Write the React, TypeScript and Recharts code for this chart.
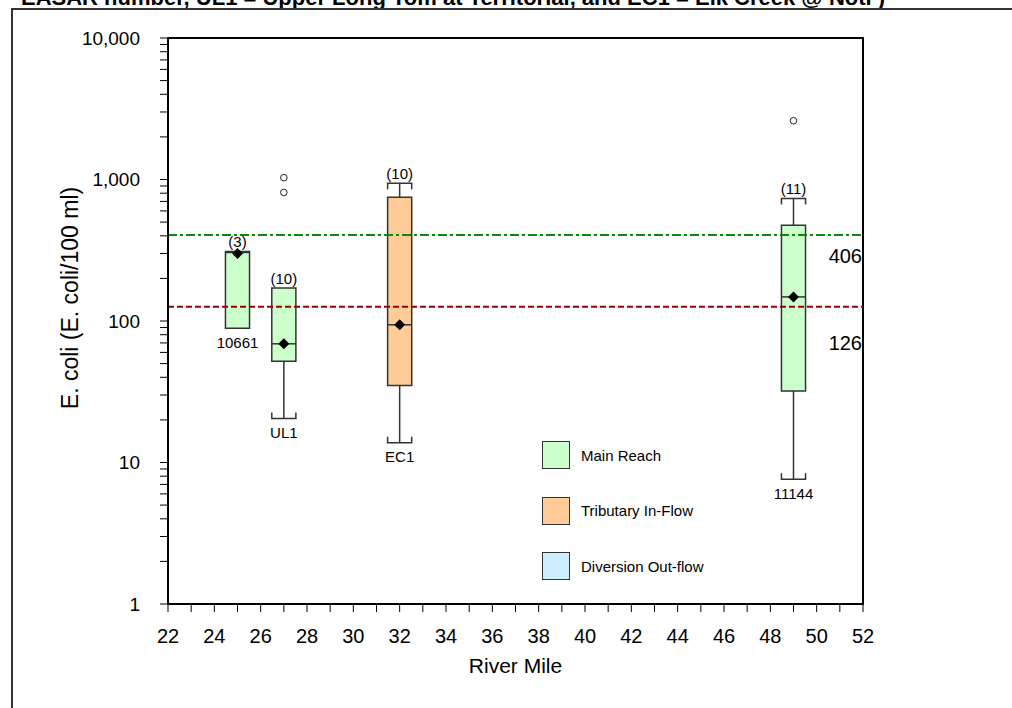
import React from 'react';
import {
	ComposedChart,
	Legend,
	ReferenceArea,
	ReferenceDot,
	ReferenceLine,
	Scatter,
	XAxis,
	YAxis,
} from 'recharts';

// sites along the river
const siteNames = ['10661', 'UL1', 'EC1', '11144'];
const riverMiles = [25, 27, 32, 49];
const sampleCounts = [3, 10, 10, 11];
const siteGroups = ['main', 'main', 'tributary', 'main'];
const whiskerLow: (number | null)[] = [null, 20.5, 13.8, 7.6];
const quartile1 = [89, 52, 35, 32];
const medians = [305, 69, 94, 148];
const quartile3 = [310, 171, 750, 475];
const whiskerHigh: (number | null)[] = [null, null, 940, 735];
const means = [300, 69, 94, 148];
const outlierValues: number[][] = [[], [810, 1030], [], [2600]];

const criteriaValues = [406, 126];

const legendNames = ['Main Reach', 'Tributary In-Flow', 'Diversion Out-flow'];
const legendGroups = ['main', 'tributary', 'diversion'];

const xTicks = [
	22, 23, 24, 25, 26, 27, 28, 29, 30, 31, 32, 33, 34, 35, 36, 37, 38, 39, 40,
	41, 42, 43, 44, 45, 46, 47, 48, 49, 50, 51, 52,
];
const yTicks = [
	1, 2, 3, 4, 5, 6, 7, 8, 9, 10, 20, 30, 40, 50, 60, 70, 80, 90, 100, 200, 300,
	400, 500, 600, 700, 800, 900, 1000, 2000, 3000, 4000, 5000, 6000, 7000, 8000,
	9000, 10000,
];

const groupFill: Record<string, string> = {
	main: '#ccffcc',
	tributary: '#ffcc99',
	diversion: '#cceeff',
};

const BOX_HALF = 0.52;
const INK = '#333';
const FONT = '"Liberation Sans", Arial, sans-serif';

const meanPoints = riverMiles.map((x, i) => ({ x, y: means[i] }));
const outlierPoints = riverMiles.flatMap((x, i) =>
	outlierValues[i].map((y) => ({ x, y })),
);

// whisker end with little bracket ticks pointing back at the box
const capShape = (dir: number) => (props: any) => {
	const { x1, y1, x2, y2 } = props;
	const t = 6 * dir;
	return (
		<path
			d={`M${x1},${y1 + t}V${y1}H${x2}V${y2 + t}`}
			fill="none"
			stroke={INK}
			strokeWidth={1.5}
		/>
	);
};

const Diamond = (props: any) => {
	const { cx, cy } = props;
	const s = 5.5;
	return (
		<polygon
			points={`${cx},${cy - s} ${cx + s},${cy} ${cx},${cy + s} ${cx - s},${cy}`}
			fill="#000"
		/>
	);
};

const Outlier = (props: any) => (
	<circle cx={props.cx} cy={props.cy} r={3.3} fill="#fff" stroke="#222" strokeWidth={1} />
);

const criterionLabel = (text: string, dy: number) => (props: any) => {
	const { viewBox } = props;
	return (
		<text
			x={viewBox.x + viewBox.width - 1}
			y={viewBox.y + dy}
			textAnchor="end"
			fontSize={20}
			fill="#000"
		>
			{text}
		</text>
	);
};

const YTitle = (props: any) => {
	const { viewBox } = props;
	const x = viewBox.x + 70;
	const y = viewBox.y + viewBox.height / 2 - 23;
	return (
		<text
			x={x}
			y={y}
			transform={`rotate(-90 ${x} ${y})`}
			textAnchor="middle"
			dominantBaseline="central"
			fontSize={23}
			fill="#000"
		>
			E. coli (E. coli/100 ml)
		</text>
	);
};

const XTitle = (props: any) => {
	const { viewBox } = props;
	return (
		<text
			x={viewBox.x + viewBox.width / 2}
			y={673}
			textAnchor="middle"
			fontSize={21}
			fill="#000"
		>
			River Mile
		</text>
	);
};

const BoxLegend = () => (
	<div style={{ fontFamily: FONT, fontSize: 15, color: '#000' }}>
		{legendNames.map((name, i) => (
			<div
				key={name}
				style={{ display: 'flex', alignItems: 'center', height: 28, marginBottom: 27.5 }}
			>
				<span
					style={{
						display: 'inline-block',
						width: 26,
						height: 26,
						background: groupFill[legendGroups[i]],
						border: `1px solid ${INK}`,
						marginRight: 11,
					}}
				/>
				{name}
			</div>
		))}
	</div>
);

export default function App() {
	const boxes = riverMiles.map((x, i) => {
		const low = whiskerLow[i];
		const high = whiskerHigh[i];
		const fill = groupFill[siteGroups[i]];
		return (
			<React.Fragment key={siteNames[i]}>
				{low != null && (
					<ReferenceLine
						segment={[{ x, y: quartile1[i] }, { x, y: low }]}
						stroke={INK}
						strokeWidth={1.5}
					/>
				)}
				{low != null && (
					<ReferenceLine
						segment={[{ x: x - BOX_HALF, y: low }, { x: x + BOX_HALF, y: low }]}
						shape={capShape(-1)}
					/>
				)}
				{high != null && (
					<ReferenceLine
						segment={[{ x, y: quartile3[i] }, { x, y: high }]}
						stroke={INK}
						strokeWidth={1.5}
					/>
				)}
				{high != null && (
					<ReferenceLine
						segment={[{ x: x - BOX_HALF, y: high }, { x: x + BOX_HALF, y: high }]}
						shape={capShape(1)}
					/>
				)}
				<ReferenceArea
					x1={x - BOX_HALF}
					x2={x + BOX_HALF}
					y1={quartile1[i]}
					y2={quartile3[i]}
					fill={fill}
					fillOpacity={1}
					stroke={INK}
					strokeWidth={1.5}
				/>
				<ReferenceLine
					segment={[
						{ x: x - BOX_HALF, y: medians[i] },
						{ x: x + BOX_HALF, y: medians[i] },
					]}
					stroke={INK}
					strokeWidth={1.5}
				/>
				<ReferenceDot
					x={x}
					y={high ?? quartile3[i]}
					r={0}
					fill="none"
					stroke="none"
					label={{
						value: `(${sampleCounts[i]})`,
						position: 'top',
						offset: 4,
						fill: '#000',
						fontSize: 15,
					}}
				/>
				<ReferenceDot
					x={x}
					y={low ?? quartile1[i]}
					r={0}
					fill="none"
					stroke="none"
					label={{
						value: siteNames[i],
						position: 'bottom',
						offset: 9,
						fill: '#000',
						fontSize: 15,
					}}
				/>
			</React.Fragment>
		);
	});

	return (
		<div
			style={{
				position: 'absolute',
				left: 0,
				top: 0,
				width: 1012,
				height: 708,
				overflow: 'hidden',
				background: '#fff',
				fontFamily: FONT,
			}}
		>
			<div
				style={{
					position: 'absolute',
					left: 21,
					top: -15,
					fontWeight: 'bold',
					fontSize: 22,
					whiteSpace: 'nowrap',
					color: '#000',
				}}
			>
				EASAR number, UL1 = Upper Long Tom at Territorial, and EC1 = Elk Creek @ Noti )
			</div>
			<div
				style={{
					position: 'absolute',
					left: 11,
					top: 8,
					width: 1100,
					height: 800,
					border: `2px solid ${INK}`,
				}}
			/>
			<div style={{ position: 'absolute', left: 0, top: 0 }}>
				<ComposedChart
					width={1012}
					height={708}
					margin={{ top: 38, right: 149, bottom: 0, left: 0 }}
					style={{ fontFamily: FONT }}
				>
					<XAxis
						dataKey="x"
						type="number"
						domain={[22, 52]}
						ticks={xTicks}
						interval={0}
						allowDataOverflow
						tickFormatter={(v: number) => (v % 2 === 0 ? String(v) : '')}
						tick={{ fill: '#000', fontSize: 20 }}
						tickSize={8}
						tickMargin={17}
						tickLine={{ stroke: '#000' }}
						axisLine={{ stroke: '#000', strokeWidth: 2 }}
						height={104}
						label={XTitle}
					/>
					<YAxis
						dataKey="y"
						type="number"
						scale="log"
						domain={[1, 10000]}
						ticks={yTicks}
						interval={0}
						allowDataOverflow
						tickFormatter={(v: number) =>
							Number.isInteger(Math.log10(v)) ? v.toLocaleString('en-US') : ''
						}
						tick={{ fill: '#000', fontSize: 19 }}
						tickSize={8}
						tickMargin={20}
						tickLine={{ stroke: '#000' }}
						axisLine={{ stroke: '#000', strokeWidth: 2 }}
						width={168}
						label={YTitle}
					/>
					{boxes}
					<ReferenceLine
						y={criteriaValues[0]}
						stroke="#0a8a0a"
						strokeWidth={2}
						strokeDasharray="9 3 3 3"
						label={criterionLabel(String(criteriaValues[0]), 28)}
					/>
					<ReferenceLine
						y={criteriaValues[1]}
						stroke="#990000"
						strokeWidth={2}
						strokeDasharray="6 3"
						label={criterionLabel(String(criteriaValues[1]), 43)}
					/>
					<Scatter
						data={meanPoints}
						shape={Diamond}
						isAnimationActive={false}
					/>
					<Scatter
						data={outlierPoints}
						shape={Outlier}
						isAnimationActive={false}
					/>
					<ReferenceArea
						x1={22}
						x2={52}
						y1={1}
						y2={10000}
						fill="none"
						fillOpacity={0}
						stroke="#000"
						strokeWidth={2}
						ifOverflow="visible"
					/>
					<Legend
						layout="vertical"
						align="center"
						verticalAlign="middle"
						content={BoxLegend}
						wrapperStyle={{ left: 542, top: 441, width: 'auto' }}
					/>
				</ComposedChart>
			</div>
		</div>
	);
}
